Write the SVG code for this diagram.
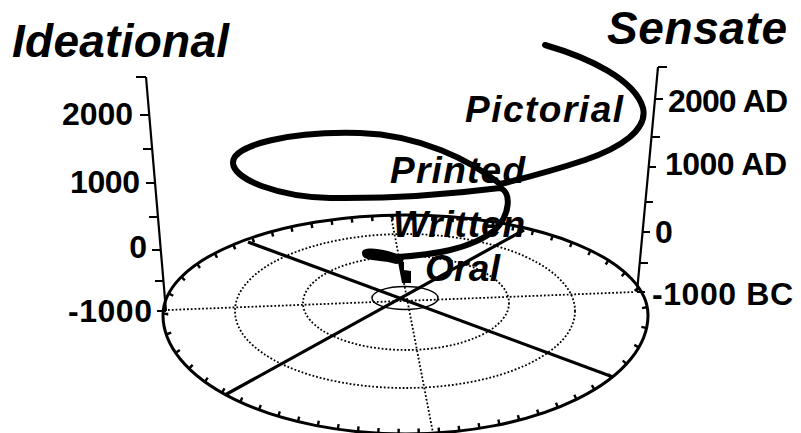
<svg xmlns="http://www.w3.org/2000/svg" width="801" height="433" viewBox="0 0 801 433">
<style>
.ax{font-family:"Liberation Sans",Arial,sans-serif;font-weight:bold;font-size:32px;fill:#000}
.ttl{font-family:"Liberation Sans",Arial,sans-serif;font-weight:bold;font-style:italic;font-size:46px;fill:#000}
.lbl{font-family:"Liberation Sans",Arial,sans-serif;font-weight:bold;font-style:italic;font-size:37px;fill:#000}
.dot{fill:none;stroke:#000;stroke-width:1.8;stroke-dasharray:1.8 2}
.solid{fill:none;stroke:#000;stroke-width:3.2}
.axis{fill:none;stroke:#000;stroke-width:2.2}
.helix{fill:none;stroke:#000;stroke-width:6;stroke-linecap:round;stroke-linejoin:round}
</style>
<rect width="801" height="433" fill="#fff"/>
<g id="base">
  <ellipse class="dot" cx="405" cy="311" rx="170" ry="77"/>
  <ellipse class="dot" cx="406" cy="303" rx="103" ry="47"/>
  <ellipse cx="405" cy="298" rx="33" ry="11.5" fill="none" stroke="#000" stroke-width="1.5"/>
  <line class="dot" x1="168" y1="310" x2="635" y2="292"/>
  <line class="dot" x1="391" y1="216" x2="433" y2="433"/>
  <line class="solid" x1="248" y1="242" x2="613" y2="377"/>
  <line class="solid" x1="225" y1="395" x2="524" y2="230"/>
  <path d="M163,315 A242.5,100 0 0 1 648,315 A242.5,119 0 0 1 163,315 Z" fill="none" stroke="#000" stroke-width="3"/>
  <path d="M165.5,315 A240,97.5 0 0 1 645.5,315 A240,116.5 0 0 1 165.5,315 Z" fill="none" stroke="#000" stroke-width="5.5" pathLength="56" stroke-dasharray="0.12 0.88"/>
</g>
<g id="left-axis">
  <line class="axis" x1="146" y1="77" x2="166" y2="311"/>
  <path class="axis" d="M136,77H146 M140,115H149 M143,149H152 M146,183H155 M149,217H158 M152,250H161 M155,281H163 M157,311H166"/>
  <text class="ax" x="133" y="125" text-anchor="end" textLength="71">2000</text>
  <text class="ax" x="140" y="193" text-anchor="end" textLength="70">1000</text>
  <text class="ax" x="147" y="258" text-anchor="end">0</text>
  <text class="ax" x="152" y="322" text-anchor="end" textLength="84">-1000</text>
</g>
<g id="right-axis">
  <line class="axis" x1="658" y1="67" x2="637" y2="292"/>
  <path class="axis" d="M658,67H667 M655,99H663 M651.5,137H660 M648.7,167H656 M645.4,202H653 M642.6,232H650 M639.7,263H648 M637,292H645"/>
  <text class="ax" x="668" y="112" textLength="120">2000 AD</text>
  <text class="ax" x="665" y="175" textLength="122">1000 AD</text>
  <text class="ax" x="655" y="243">0</text>
  <text class="ax" x="652" y="305" textLength="141">-1000 BC</text>
</g>
<g id="titles">
  <text class="ttl" x="12" y="57" textLength="217">Ideational</text>
  <text class="ttl" x="607" y="44" textLength="180">Sensate</text>
</g>
<g id="labels">
  <text class="lbl" x="465" y="122" textLength="158">Pictorial</text>
  <text class="lbl" x="390" y="183" textLength="135">Printed</text>
  <text class="lbl" x="393" y="237" textLength="132">Written</text>
  <text class="lbl" x="425" y="281" textLength="75">Oral</text>
</g>
<g id="helix">
  <path class="helix" d="M545,45 C590,58 635,80 643,108 C648,130 620,148 585,160 C555,170 525,178 500,184 C470,160 420,135 360,133 C290,131 232,145 233,163 C234,180 280,197 330,198 C400,199 460,193 500,188 C512,192 510,215 495,230 C470,250 430,255 398,257"/>
  <path d="M362,253 C362,247 375,248 388,251 L404,256 L403,263 L396,264 L388,262 L372,260 C365,259 362,257 362,253 Z" fill="#000"/>
  <path d="M398,262 L404,262 L404,270 L411,271 L411,283 L402,283 Z" fill="#000"/>
</g>
</svg>
